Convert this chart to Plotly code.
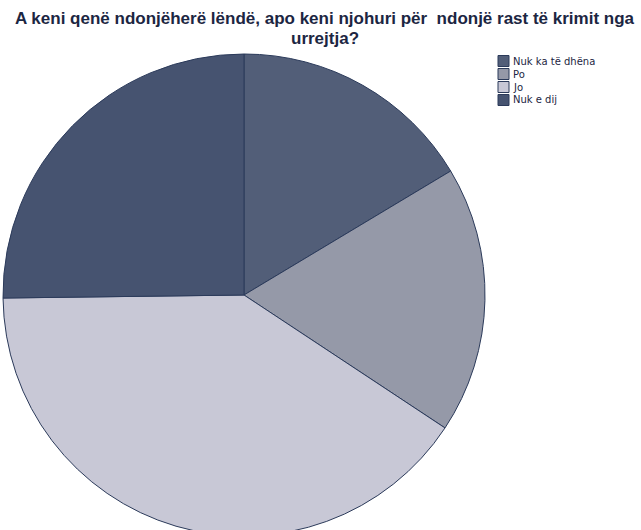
import plotly.graph_objects as go

categories = ["Nuk ka të dhëna", "Po", "Jo", "Nuk e dij"]
values = [16.4, 17.9, 40.5, 25.2]
colors = ["#525e78", "#9599a8", "#c8c8d6", "#465370"]

title_lines = ["A keni qenë ndonjëherë lëndë, apo keni njohuri për  ndonjë rast të krimit nga", "urrejtja?"]

W, H = 641, 536


def px(x):
    return x / W


def py(y):
    return 1 - y / H


fig = go.Figure(go.Pie(
    labels=categories,
    values=values,
    sort=False,
    direction="clockwise",
    rotation=0,
    textinfo="none",
    hoverinfo="label+percent",
    showlegend=False,
    marker=dict(colors=colors, line=dict(color="#2b3a5a", width=1)),
    domain=dict(x=[px(3), px(485)], y=[0, py(54)]),
))

annotations = []
for i, line in enumerate(title_lines):
    annotations.append(dict(
        text="<b>" + line + "</b>",
        x=px(325), xref="paper", xanchor="center",
        y=py(19 + 20 * i), yref="paper", yanchor="middle",
        showarrow=False,
        font=dict(family="Liberation Sans, Arial", size=17, color="#1c2642"),
    ))

shapes = []
for i, (cat, col) in enumerate(zip(categories, colors)):
    cy = 61 + 13 * i
    shapes.append(dict(
        type="rect", xref="paper", yref="paper",
        x0=px(498), x1=px(509), y0=py(cy - 5.5), y1=py(cy + 5.5),
        fillcolor=col, line=dict(color="#2b3a5a", width=1),
    ))
    annotations.append(dict(
        text=cat, x=px(511), xref="paper", xanchor="left",
        y=py(cy), yref="paper", yanchor="middle", showarrow=False,
        font=dict(family="DejaVu Sans", size=10, color="#1c2642"),
    ))

fig.update_layout(
    width=W,
    height=H,
    margin=dict(l=0, r=0, t=0, b=0),
    paper_bgcolor="white",
    plot_bgcolor="white",
    annotations=annotations,
    shapes=shapes,
)

fig.write_html(
    "out.html",
    config={"displayModeBar": False},
    post_script="document.body.style.margin='0';document.body.style.overflow='hidden';",
)
